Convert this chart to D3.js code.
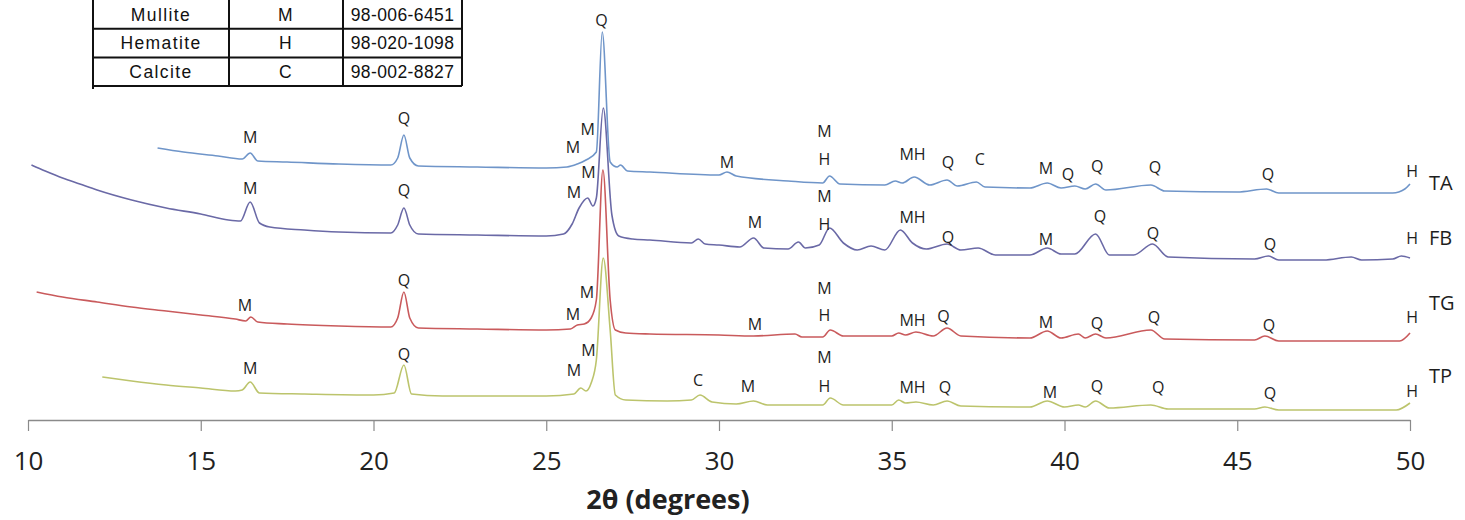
<!DOCTYPE html>
<html>
<head>
<meta charset="utf-8">
<script src="https://cdn.jsdelivr.net/npm/d3@7"></script>
<style>
  html, body { margin: 0; padding: 0; background: #ffffff; }
  svg { display: block; }
</style>
</head>
<body>
<svg id="chart" width="1465" height="520"></svg>
<script>
// ---- data -------------------------------------------------------------
// 2θ tick marks
const thetaTicks = [10, 15, 20, 25, 30, 35, 40, 45, 50];

// reference phases (table)
const phaseNames   = ["Mullite", "Hematite", "Calcite"];
const phaseSymbols = ["M", "H", "C"];
const phaseCodes   = ["98-006-6451", "98-020-1098", "98-002-8827"];

// diffraction patterns: [2θ, intensity (a.u., stacked)]
const TA = [
  [13.75,272],[14.5,268],[15.5,264],[16.2,261],[16.43,267],[16.65,259],[17.5,258],[19,256],
  [20.5,255],[20.7,262],[20.88,285],[21.05,262],[21.3,254],[23,253],[25,252],[25.6,253],
  [25.9,256],[26.15,260],[26.45,268],[26.62,388],[26.85,258],[27.05,253],[27.15,255],[27.35,249],
  [28,248],[30,245],[30.23,248],[30.5,244],[32,239],[33.0,237],[33.2,244],[33.5,236],
  [34.8,235],[35.1,239],[35.3,237],[35.65,243],[36.1,235],[36.6,240],[36.9,234],[37.45,238],
  [37.7,233],[39,232],[39.5,237],[39.9,232],[40.3,234],[40.6,231],[40.9,236],[41.2,230],
  [42.5,235],[42.9,229],[45,228],[45.85,231],[46.2,227],[49.5,227],[49.85,231],[50,236]
];
const FB = [
  [10.1,255],[10.5,249],[11,242],[11.5,236],[12,230],[13,220],[14,212],[15,206],
  [15.8,200],[16.15,199],[16.43,218],[16.7,197],[17,193],[18,190],[19,188],[20.5,187],
  [20.7,195],[20.88,212],[21.05,195],[21.3,186],[23,185],[25,184],[25.5,186],[25.75,196],
  [25.95,212],[26.2,222],[26.35,214],[26.45,222],[26.65,312],[26.9,205],[27.1,184],[27.5,181],
  [28,180],[29.2,177],[29.4,181],[29.6,176],[30,175],[30.6,173],[31.0,182],[31.3,172],
  [32,171],[32.3,178],[32.5,172],[32.9,175],[33.2,192],[33.6,177],[34.0,170],[34.4,174],
  [34.8,170],[35.25,190],[35.6,177],[36.0,171],[36.6,176],[37.0,170],[37.5,172],[38,165],
  [39.0,165],[39.5,172],[39.9,166],[40.3,166],[40.9,186],[41.3,165],[42.0,165],[42.55,176],
  [43,163],[45.5,161],[45.9,164],[46.2,160],[47.5,160],[48.3,163],[48.6,160],[49.5,161],
  [49.75,164],[50,162]
];
const TG = [
  [10.25,128],[11,123],[12,118],[13,113],[14,109],[15,105],[16,101],[16.3,99],
  [16.45,103],[16.65,98],[17.5,96],[19,94],[20.5,93],[20.7,102],[20.88,128],[21.05,102],
  [21.3,92],[23,91],[25,90],[25.7,91],[25.9,95],[26.1,96],[26.3,102],[26.45,120],
  [26.64,250],[26.85,120],[27.0,90],[27.3,87],[28,86],[30,85],[31,84],[32.2,86],
  [32.4,83],[33.0,83],[33.22,90],[33.6,84],[35.0,84],[35.2,87],[35.4,85],[35.7,88],
  [36.2,84],[36.6,92],[37.0,84],[39.0,82],[39.5,89],[39.9,82],[40.4,86],[40.6,82],
  [40.9,86],[41.2,82],[42.5,90],[42.9,81],[45.5,80],[45.8,84],[46.2,79],[49.7,79],[50,87]
];
const TP = [
  [12.15,43],[13,39],[14,35],[15,32],[16,29],[16.2,30],[16.43,38],[16.7,27],
  [18,26],[20,25],[20.6,27],[20.88,55],[21.1,26],[22,24],[25,24],[25.8,26],
  [26.0,32],[26.15,29],[26.3,37],[26.45,60],[26.65,162],[26.85,90],[27.0,25],[27.3,20],
  [28.5,19],[29.2,20],[29.45,25],[29.8,18],[30.5,16],[31.0,19],[31.4,15],[33.0,15],
  [33.22,22],[33.6,15],[35.0,15],[35.2,20],[35.4,17],[35.7,18],[36.2,15],[36.6,19],
  [37,14],[39,13],[39.5,19],[40.0,13],[40.4,15],[40.6,13],[40.9,19],[41.3,12],
  [42.5,15],[43,11],[45.5,11],[45.8,13],[46.2,10],[49.6,10],[50,17]
];

// phase annotations: [symbol, 2θ, intensity]
const TA_peaks = [
  ["M",16.43,283],["Q",20.88,302],["M",25.77,273],["M",26.2,291],["Q",26.6,400],
  ["M",30.23,258],["M",33.05,289],["H",33.05,261],["MH",35.6,266],["Q",36.63,258],
  ["C",37.55,261],["M",39.46,252],["Q",40.1,246],["Q",40.95,254],["Q",42.62,253],
  ["Q",45.89,246],["H",50.06,249]
];
const FB_peaks = [
  ["M",16.43,232],["Q",20.88,230],["M",25.8,228],["M",26.22,248],["M",31.04,198],
  ["M",33.05,224],["H",33.05,196],["MH",35.6,203],["Q",36.63,183],["M",39.46,181],
  ["Q",41.03,204],["Q",42.56,187],["Q",45.95,176],["H",50.06,182]
];
const TG_peaks = [
  ["M",16.28,115],["Q",20.88,140],["M",25.77,106],["M",26.18,128],["M",31.04,96],
  ["M",33.05,132],["H",33.05,105],["MH",35.6,100],["Q",36.5,104],["M",39.46,98],
  ["Q",40.94,97],["Q",42.59,103],["Q",45.92,95],["H",50.06,103]
];
const TP_peaks = [
  ["M",16.43,52],["Q",20.88,66],["M",25.8,50],["M",26.22,70],["C",29.39,40],
  ["M",30.84,34],["M",33.05,63],["H",33.05,34],["MH",35.6,33],["Q",36.54,33],
  ["M",39.58,28],["Q",40.94,34],["Q",42.71,33],["Q",45.95,27],["H",50.06,29]
];

// sample names and the intensity level their tag sits at
const sampleNames = ["TA", "FB", "TG", "TP"];
const sampleTagLevel = [237, 182, 117, 44];

// ---- drawing ----------------------------------------------------------
const svg = d3.select("#chart");
const W = 1465, H = 520;
svg.append("rect").attr("width", W).attr("height", H).attr("fill", "#ffffff");

const x = d3.scaleLinear().domain([10, 50]).range([28, 1410]);
const y = d3.scaleLinear().domain([0, 400]).range([420, 20]);

const patterns = [TA, FB, TG, TP];
const peakSets = [TA_peaks, FB_peaks, TG_peaks, TP_peaks];
const lineColors = ["#6f95c9", "#6a69a6", "#c95a5c", "#bcc46c"];
const font = "'Open Sans', 'DejaVu Sans', sans-serif";

// x axis
const axisG = svg.append("g")
  .attr("transform", `translate(0,${y(0)})`)
  .call(d3.axisBottom(x).tickValues(thetaTicks).tickSize(11).tickSizeOuter(0).tickPadding(21));
axisG.select(".domain").attr("stroke", "#8a8a8a").attr("stroke-width", 1.4);
axisG.selectAll(".tick line").attr("stroke", "#8a8a8a").attr("stroke-width", 1.2);
axisG.selectAll(".tick text")
  .attr("font-family", font).attr("font-size", 26).attr("fill", "#222");

svg.append("text")
  .attr("x", 668).attr("y", 509)
  .attr("text-anchor", "middle")
  .attr("font-family", font).attr("font-weight", 700).attr("font-size", 27)
  .attr("fill", "#222")
  .text("2θ (degrees)");

// patterns, drawn bottom to top so the upper traces sit in front
const line = d3.line().x(d => x(d[0])).y(d => y(d[1])).curve(d3.curveMonotoneX);
for (let i = patterns.length - 1; i >= 0; i--) {
  svg.append("path")
    .datum(patterns[i])
    .attr("fill", "none")
    .attr("stroke", lineColors[i])
    .attr("stroke-width", 1.6)
    .attr("stroke-linejoin", "round")
    .attr("d", line);
}

// phase annotations
peakSets.forEach(set => {
  svg.append("g").selectAll("text").data(set).join("text")
    .attr("x", d => x(d[1]))
    .attr("y", d => y(d[2]))
    .attr("dy", "0.36em")
    .attr("text-anchor", "middle")
    .attr("font-family", font).attr("font-size", 16).attr("fill", "#1e1e1e")
    .text(d => d[0]);
});

// sample tags at the right end
svg.append("g").selectAll("text").data(sampleNames).join("text")
  .attr("x", x(50) + 19)
  .attr("y", (d, i) => y(sampleTagLevel[i]))
  .attr("dy", "0.36em")
  .attr("font-family", font).attr("font-size", 20).attr("fill", "#1e1e1e")
  .text(d => d);

// phase reference table
const colEdges = [93, 229, 343, 462];
const rowH = 28.7;
const tbl = svg.append("g");
phaseNames.forEach((name, r) => {
  const cells = [name, phaseSymbols[r], phaseCodes[r]];
  cells.forEach((t, c) => {
    tbl.append("text")
      .attr("x", (colEdges[c] + colEdges[c + 1]) / 2)
      .attr("y", rowH * r + rowH / 2)
      .attr("dy", "0.36em")
      .attr("text-anchor", "middle")
      .attr("font-family", "'Liberation Sans', Arial, sans-serif")
      .attr("font-size", 17.5)
      .attr("letter-spacing", c === 2 ? 0.4 : 1.4)
      .attr("fill", "#111")
      .text(t);
  });
});
[1, 2, 3].forEach(r => {
  tbl.append("line")
    .attr("x1", colEdges[0]).attr("x2", colEdges[3])
    .attr("y1", rowH * r).attr("y2", rowH * r)
    .attr("stroke", "#111").attr("stroke-width", 2);
});
colEdges.forEach((cx, i) => {
  tbl.append("line")
    .attr("x1", cx).attr("x2", cx)
    .attr("y1", 0).attr("y2", rowH * 3 + (i === 0 ? 3 : 0))
    .attr("stroke", "#111").attr("stroke-width", 2);
});
</script>
</body>
</html>
